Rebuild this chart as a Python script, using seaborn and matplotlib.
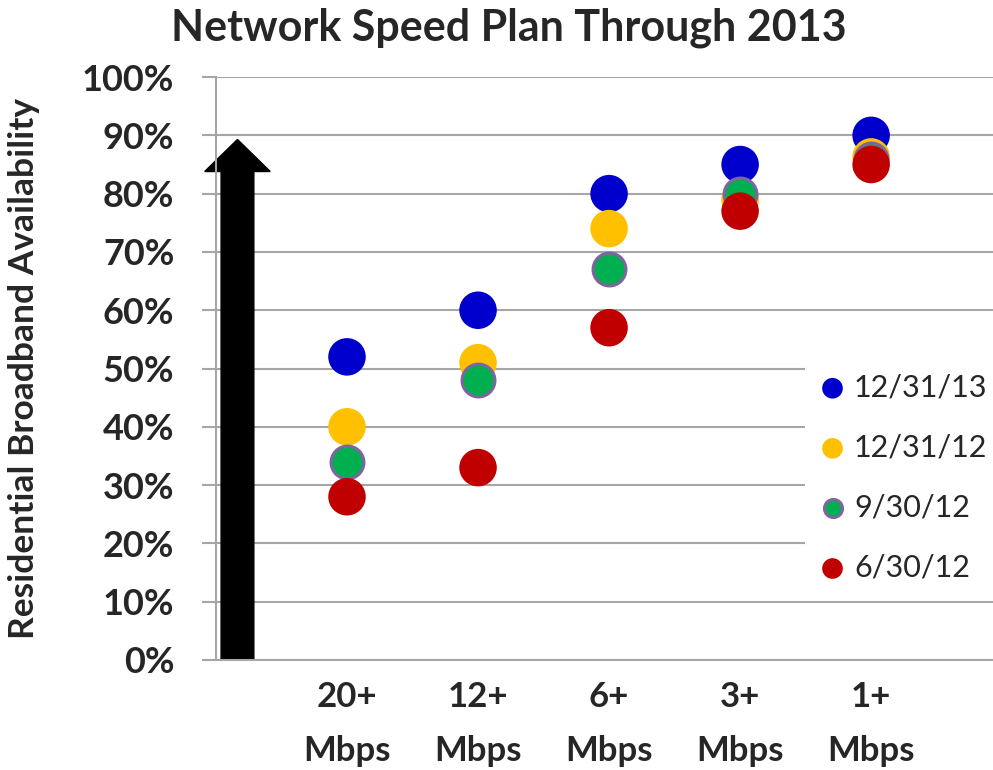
import matplotlib
matplotlib.use("Agg")
import matplotlib.pyplot as plt
from matplotlib.patches import FancyArrow
from matplotlib.ticker import FuncFormatter
import seaborn as sns
import pandas as pd

# Speed tiers and availability share per reporting date
tiers = ["20+\nMbps", "12+\nMbps", "6+\nMbps", "3+\nMbps", "1+\nMbps"]
dates = ["12/31/13", "12/31/12", "9/30/12", "6/30/12"]
avail_12_31_13 = [0.52, 0.60, 0.80, 0.85, 0.90]
avail_12_31_12 = [0.40, 0.51, 0.74, 0.79, 0.863]
avail_9_30_12 = [0.34, 0.48, 0.67, 0.80, 0.86]
avail_6_30_12 = [0.28, 0.33, 0.57, 0.77, 0.85]

colors = ["#0000CC", "#FFC000", "#00B050", "#C00000"]

rows = []
for date, vals in zip(dates, [avail_12_31_13, avail_12_31_12, avail_9_30_12, avail_6_30_12]):
    for i, v in enumerate(vals):
        rows.append({"pos": i + 1, "tier": tiers[i], "date": date, "avail": v})
df = pd.DataFrame(rows)

sns.set_theme(style="white")
plt.rcParams["font.family"] = ["Lato", "DejaVu Sans"]

fig = plt.figure(figsize=(9.93, 7.70), dpi=100)
ax = fig.add_axes([0.2175, 0.1429, 0.7825, 0.757])

# Background arrow along the axis
ax.add_patch(FancyArrow(0.164, 0.0, 0.0, 0.893, width=0.25, head_width=0.5,
                        head_length=0.055, length_includes_head=True,
                        color="black", zorder=1.5, clip_on=False))

for date, col in zip(dates, colors):
    sub = df[df["date"] == date]
    if date == "9/30/12":
        sns.scatterplot(data=sub, x="pos", y="avail", ax=ax, color=col, s=560,
                        edgecolor="#8064A2", linewidth=2.2, label=date, zorder=3)
    else:
        sns.scatterplot(data=sub, x="pos", y="avail", ax=ax, color=col, s=730,
                        edgecolor="none", linewidth=0, label=date, zorder=3)

ax.set_xlim(0, 5.93)
ax.set_ylim(0, 1.0)
ax.set_yticks([i / 10 for i in range(11)])
ax.yaxis.set_major_formatter(FuncFormatter(lambda v, _: f"{v:.0%}"))
ax.set_xticks(range(1, 6))
ax.set_xticklabels(tiers, fontsize=25, fontweight="bold", linespacing=1.85)
for lbl in ax.get_yticklabels():
    lbl.set_fontsize(26)
    lbl.set_fontweight("bold")

ax.grid(axis="y", color="#A6A6A6", linewidth=1.5)
ax.grid(axis="x", visible=False)
ax.set_axisbelow(True)
for side in ["top", "right"]:
    ax.spines[side].set_visible(False)
for side in ["left", "bottom"]:
    ax.spines[side].set_color("#A6A6A6")
    ax.spines[side].set_linewidth(1.5)
ax.tick_params(axis="y", direction="out", length=10, width=1.5, color="#A6A6A6",
               pad=20, left=True)
ax.tick_params(axis="x", length=0, pad=15)

ax.set_xlabel("")
ax.set_ylabel("Residential Broadband Availability", fontsize=25.5, fontweight="bold")
ax.yaxis.set_label_coords(-0.226, 0.5)
ax.set_title("Network Speed Plan Through 2013", fontsize=31, fontweight="bold",
             pad=26, x=0.377)

leg = ax.legend(loc="center left", bbox_to_anchor=(805 / 993, 0.380),
                bbox_transform=fig.transFigure, frameon=True,
                facecolor="white", edgecolor="none", framealpha=1.0,
                fontsize=22, markerscale=0.55, handlelength=1.0,
                handletextpad=0.2, labelspacing=1.05, borderpad=0.4,
                borderaxespad=0.0)

fig.savefig("out.png", dpi=100)
